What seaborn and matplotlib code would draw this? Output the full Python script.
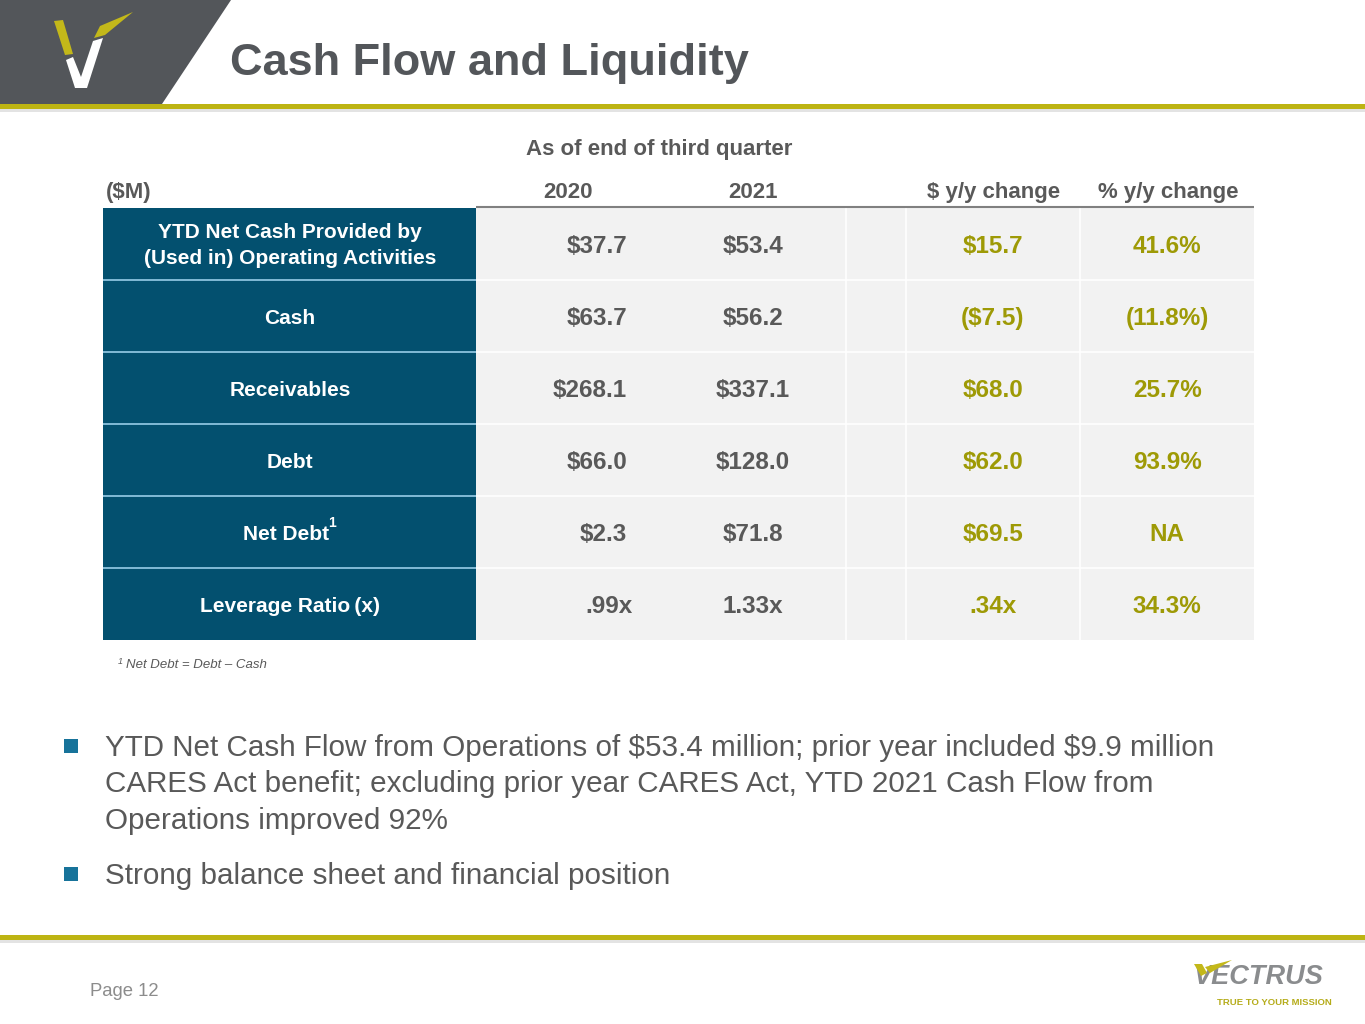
import matplotlib
matplotlib.use("Agg")
import matplotlib.pyplot as plt
from matplotlib.colors import ListedColormap
from matplotlib.patches import Polygon, Rectangle
import numpy as np
import seaborn as sns

# table content
row_labels = ["YTD Net Cash Provided by\n(Used in) Operating Activities", "Cash",
              "Receivables", "Debt", "Net Debt", "Leverage Ratio\u2009(x)"]
vals_2020 = ["$37.7", "$63.7", "$268.1", "$66.0", "$2.3", ".99x"]
vals_2021 = ["$53.4", "$56.2", "$337.1", "$128.0", "$71.8", "1.33x"]
chg_dollar = ["$15.7", "($7.5)", "$68.0", "$62.0", "$69.5", ".34x"]
chg_pct = ["41.6%", "(11.8%)", "25.7%", "93.9%", "NA", "34.3%"]
col_headers = ["2020", "2021", "$ y/y change", "% y/y change"]

title = "Cash Flow and Liquidity"
super_header = "As of end of third quarter"
unit_label = "($M)"
footnote = "Net Debt = Debt \u2013 Cash"
bullets = [
    ["YTD Net Cash Flow from Operations of $53.4 million; prior year included $9.9 million",
     "CARES Act benefit; excluding prior year CARES Act, YTD 2021 Cash Flow from",
     "Operations improved 92%"],
    ["Strong balance sheet and financial position"],
]
page_label = "Page 12"

# colours
GRAY = "#53565A"
TXT = "#595959"
GOLD = "#BDB413"
GOLD_TXT = "#9E9A06"
NAVY = "#03506F"
LBLUE = "#8CC3DE"
CELL = "#F2F2F2"
TEAL = "#17739A"
LOGO_Y = "#C3B81A"

sns.set_theme(style="white")
plt.rcParams["font.family"] = ["Liberation Sans", "DejaVu Sans"]

W, H = 1365, 1024
fig = plt.figure(figsize=(W / 100, H / 100), dpi=100)
ax = fig.add_axes([0, 0, 1, 1], zorder=3)
ax.set_xlim(0, W)
ax.set_ylim(H, 0)
ax.axis("off")
ax.patch.set_alpha(0)


def txt(x, y, s, **kw):
    kw.setdefault("parse_math", False)
    return ax.text(x, y, s, **kw)


# header band + logo
ax.add_patch(Polygon([(0, 0), (231, 0), (162, 104), (0, 104)], color=GRAY, lw=0))
ax.add_patch(Rectangle((0, 104), W, 4.5, color=GOLD, lw=0))
ax.add_patch(Rectangle((0, 108.5), W, 3, color="#E3E3E3", lw=0))
ax.add_patch(Polygon([(54, 21), (63, 20), (73, 54), (65, 55)], color=LOGO_Y, lw=0))
ax.add_patch(Polygon([(94, 38), (100, 26), (133, 12), (105, 35)], color=LOGO_Y, lw=0))
ax.add_patch(Polygon([(66, 60), (73, 57), (81, 77), (93, 41), (103, 38), (87, 88), (75, 88)],
                     color="white", lw=0))
txt(230, 75, title, fontsize=32.5, fontweight="bold", color=GRAY, va="baseline")

# table geometry (pixel units)
row_edges = np.arange(208, 641, 72)
row_mid = (row_edges[:-1] + row_edges[1:]) / 2
col_edges = np.array([476, 846, 906, 1080, 1254])

# label column as a one-column heatmap
hax = fig.add_axes([103 / W, 1 - 640 / H, 373 / W, 432 / H], zorder=2)
sns.heatmap(np.zeros((len(row_labels), 1)), ax=hax, cmap=ListedColormap([NAVY]),
            cbar=False, linewidths=0, xticklabels=False, yticklabels=False)
hax.hlines(np.arange(1, len(row_labels)), 0, 1, color=LBLUE, lw=1.3)

# value cells
ax.pcolormesh(col_edges, row_edges, np.zeros((len(row_labels), len(col_edges) - 1)),
              cmap=ListedColormap([CELL]), edgecolors="none")
ax.hlines(row_edges[1:-1], 476, 1254, color="white", lw=1.2)
ax.vlines(col_edges[1:-1], 208, 640, color="white", lw=1.2)
ax.plot([476, 1254], [207, 207], color="#808080", lw=1.5, solid_capstyle="butt")

# headers
txt(659, 155, super_header, fontsize=16, fontweight="bold", color=TXT,
    ha="center", va="baseline")
txt(106, 198, unit_label, fontsize=16, fontweight="bold", color=TXT, va="baseline")
for x, s in zip([568, 753, 994, 1168], col_headers):
    txt(x, 198, s, fontsize=16, fontweight="bold", color=TXT, ha="center", va="baseline")

# row labels
for y, lab in zip(row_mid, row_labels):
    if "\n" in lab:
        l1, l2 = lab.split("\n")
        txt(290, y - 13 + 7.5, l1, fontsize=15, fontweight="bold", color="white",
            ha="center", va="baseline")
        txt(290, y + 12 + 7.5, l2, fontsize=15, fontweight="bold", color="white",
            ha="center", va="baseline")
    elif lab == "Net Debt":
        txt(286, y + 7.5, lab, fontsize=15, fontweight="bold", color="white",
            ha="center", va="baseline")
        txt(328, y - 5, "1", fontsize=10, fontweight="bold", color="white",
            va="baseline")
    else:
        txt(290, y + 7.5, lab, fontsize=15, fontweight="bold", color="white",
            ha="center", va="baseline")

# values
for y, a, b, c, d in zip(row_mid, vals_2020, vals_2021, chg_dollar, chg_pct):
    yb = y + 9
    txt(627 if not a.endswith("x") else 633, yb, a, fontsize=17.5, fontweight="bold",
        color=TXT, ha="right", va="baseline")
    txt(753, yb, b, fontsize=17.5, fontweight="bold", color=TXT, ha="center", va="baseline")
    txt(993, yb, c, fontsize=17.5, fontweight="bold", color=GOLD_TXT, ha="center",
        va="baseline")
    txt(1167, yb, d, fontsize=17.5, fontweight="bold", color=GOLD_TXT, ha="center",
        va="baseline")

# footnote
txt(118, 664, "1", fontsize=6.5, style="italic", color=TXT, va="baseline")
txt(126, 668, footnote, fontsize=9.5, style="italic", color=TXT, va="baseline")

# bullets
y0 = 756
for lines in bullets:
    ax.add_patch(Rectangle((64, y0 - 17), 14, 14, color=TEAL, lw=0))
    for ln in lines:
        txt(105, y0, ln, fontsize=21.3, color=TXT, va="baseline")
        y0 += 36.5
    y0 += 18.5

# footer
ax.add_patch(Rectangle((0, 935), W, 4.5, color=GOLD, lw=0))
ax.add_patch(Rectangle((0, 939.5), W, 3, color="#E3E3E3", lw=0))
txt(90, 996, page_label, fontsize=13.3, color="#8C8C8C", va="baseline")
txt(1194, 984, "VECTRUS", fontsize=19.5, fontweight="bold", style="italic",
    color="#8A8C8E", va="baseline")
ax.add_patch(Polygon([(1194, 964), (1202, 964), (1207, 973), (1201, 976)], color=LOGO_Y,
                     lw=0, zorder=5))
ax.add_patch(Polygon([(1205, 967), (1232, 960), (1210, 973)], color=LOGO_Y, lw=0, zorder=5))
txt(1217, 1005, "TRUE TO YOUR MISSION", fontsize=6.8, fontweight="bold", color="#B5AC1A",
    va="baseline")

fig.savefig("out.png", dpi=100)
